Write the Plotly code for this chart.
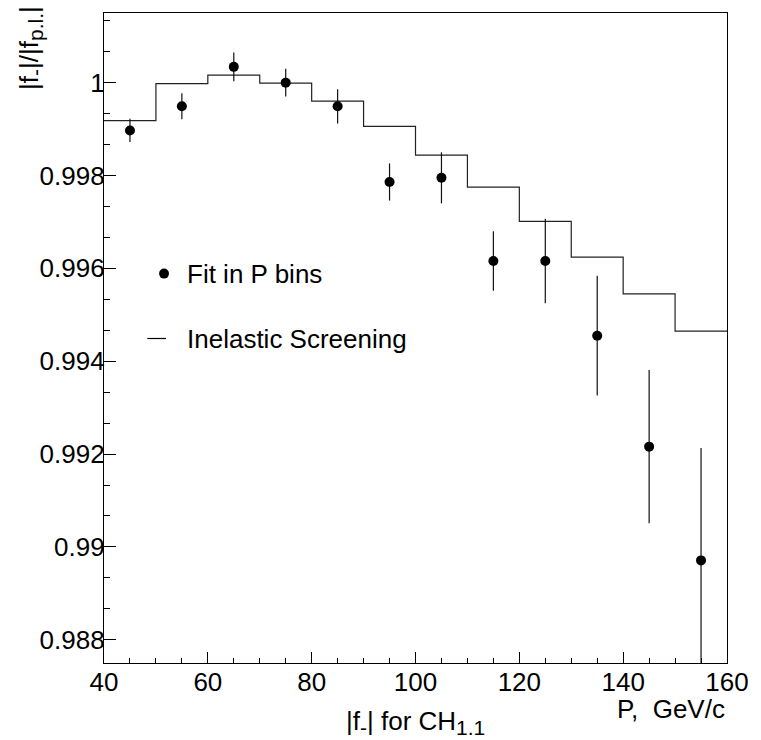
import plotly.graph_objects as go

# ---- data ----
p_centers = [45, 55, 65, 75, 85, 95, 105, 115, 125, 135, 145, 155]
fit_values = [0.99897, 0.99949, 1.00034, 1.00000, 0.99949, 0.99786,
              0.99795, 0.99616, 0.99616, 0.99455, 0.99216, 0.98971]
fit_errors = [0.00025, 0.00028, 0.00031, 0.00030, 0.00037, 0.00040,
              0.00055, 0.00064, 0.00091, 0.00129, 0.00165, 0.00242]

bin_edges = [40, 50, 60, 70, 80, 90, 100, 110, 120, 130, 140, 150, 160]
screening = [0.99918, 0.99998, 1.00016, 0.99999, 0.99960, 0.99906,
             0.99844, 0.99775, 0.99701, 0.99624, 0.99545, 0.99465]

legend_labels = ["Fit in P bins", "Inelastic Screening"]
SUB = '<sub><span style="font-size:21px">%s</span></sub>'
y_title = "|f" + SUB % "-" + "|/|f" + SUB % "p.l." + "|"
x_title = "|f" + SUB % "-" + "| for CH" + SUB % "1.1"
x_unit = "P,  GeV/c"

FONT = "Liberation Sans, Arial, Helvetica, sans-serif"
FS = 26

fig = go.Figure()

# histogram (step line)
fig.add_trace(go.Scatter(
    x=bin_edges, y=screening + [screening[-1]],
    mode="lines", line=dict(color="#222222", width=1.2, shape="hv"),
    showlegend=False, hoverinfo="skip"))

# data points with error bars
fig.add_trace(go.Scatter(
    x=p_centers, y=fit_values, mode="markers",
    marker=dict(color="black", size=10),
    error_y=dict(type="data", array=fit_errors, color="#111111",
                 thickness=1.2, width=0),
    showlegend=False))

W, H = 761, 740
ml, mr, mt, mb = 104, 24, 12, 77
pw, ph = W - ml - mr, H - mt - mb

def px(xp):
    return (xp - ml) / pw

def py(yp):
    return (H - mb - yp) / ph

shapes = [
    dict(type="circle", xref="paper", yref="paper",
         x0=px(160), x1=px(170), y0=py(278), y1=py(268),
         fillcolor="black", line=dict(color="black", width=0)),
    dict(type="line", xref="paper", yref="paper",
         x0=px(148), x1=px(167), y0=py(338), y1=py(338),
         line=dict(color="black", width=1.2)),
]

annotations = [
    dict(text=legend_labels[0], xref="paper", yref="paper",
         x=px(186), y=py(273), xanchor="left", yanchor="middle",
         showarrow=False, font=dict(family=FONT, size=FS, color="black")),
    dict(text=legend_labels[1], xref="paper", yref="paper",
         x=px(186), y=py(339), xanchor="left", yanchor="middle",
         showarrow=False, font=dict(family=FONT, size=FS, color="black")),
    dict(text=y_title, xref="paper", yref="paper",
         x=px(10), y=py(3), xanchor="left", yanchor="top", textangle=-90,
         showarrow=False, font=dict(family=FONT, size=FS, color="black")),
    dict(text=x_title, xref="paper", yref="paper",
         x=0.5, y=py(704), xanchor="center", yanchor="top",
         showarrow=False, font=dict(family=FONT, size=FS, color="black")),
    dict(text=x_unit, xref="paper", yref="paper",
         x=1.0, y=py(692), xanchor="right", yanchor="top",
         showarrow=False, font=dict(family=FONT, size=FS, color="black")),
]

fig.update_layout(
    width=W, height=H, autosize=False,
    margin=dict(l=ml, r=mr, t=mt, b=mb, pad=0),
    paper_bgcolor="white", plot_bgcolor="white",
    font=dict(family=FONT, size=FS, color="black"),
    shapes=shapes, annotations=annotations,
    showlegend=False,
    xaxis=dict(range=[40, 160], tickmode="linear", tick0=40, dtick=20,
               ticks="inside", ticklen=11, tickwidth=1, tickcolor="black",
               showline=True, linecolor="black", linewidth=1.2, mirror=True,
               showgrid=False, zeroline=False, ticklabelstandoff=-4,
               minor=dict(dtick=5, ticks="inside", ticklen=5,
                          tickcolor="black", tickwidth=1, showgrid=False),
               tickfont=dict(family=FONT, size=FS, color="black")),
    yaxis=dict(range=[0.9875, 1.0015], tickmode="linear", tick0=0.988,
               dtick=0.002,
               ticks="inside", ticklen=12, tickwidth=1, tickcolor="black",
               showline=True, linecolor="black", linewidth=1.2, mirror=True,
               showgrid=False, zeroline=False, ticklabelstandoff=-7,
               minor=dict(tick0=0.988, dtick=0.002 / 3, ticks="inside",
                          ticklen=6, tickcolor="black", tickwidth=1,
                          showgrid=False),
               tickfont=dict(family=FONT, size=FS, color="black")),
)

fig.write_html("out.html",
               config={"displayModeBar": False, "responsive": False},
               post_script="document.body.style.margin='0px';"
                           "document.body.style.overflow='hidden';")
